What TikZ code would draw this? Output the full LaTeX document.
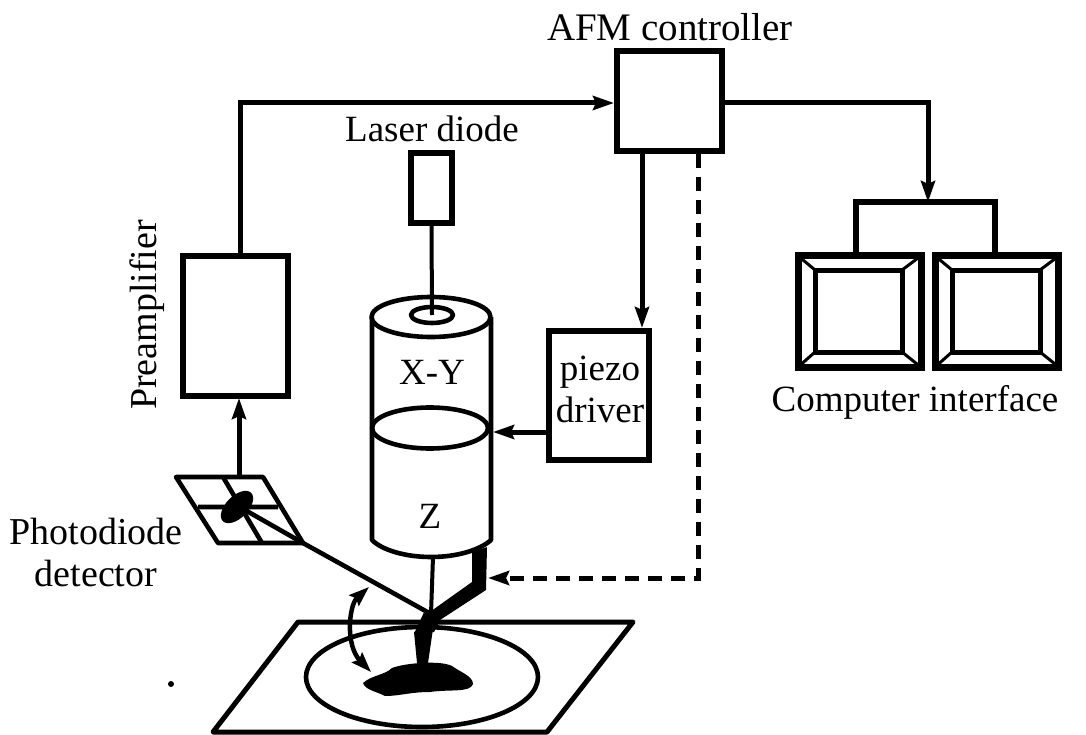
\documentclass[tikz,border=0pt]{standalone}
\usepackage{fontspec}
\setmainfont{Liberation Serif}
\usetikzlibrary{arrows.meta,positioning,calc}
\tikzset{
  lbl/.style={inner sep=0pt,font=\fontsize{#1}{42}\selectfont,align=center,text=black},
  lbl/.default=37,
  bx/.style={draw=black,line width=6pt,fill=white,inner sep=0pt,minimum width=#1},
  wire/.style={line width=5pt,draw=black},
  thin wire/.style={line width=4pt,draw=black},
  tip/.style={-{Stealth[length=21pt,width=14pt,inset=3pt]}},
  obj/.style={line width=4.6pt,draw=black,line join=round},
  mon/.style={line width=7pt,draw=black,fill=white,line join=miter},
}
\begin{document}
\begin{tikzpicture}[x=1pt,y=-1pt]
\useasboundingbox (0,0) rectangle (1086,735);
% plate and sample
\draw[obj,line width=5pt] (298,622) -- (633,622) -- (547,732) -- (213,732) -- cycle;
\draw[obj] (422,677) ellipse [x radius=116,y radius=50];
\fill (363,683) .. controls (372,675) and (385,675) .. (392,668)
  .. controls (405,663) and (440,660) .. (452,666)
  .. controls (460,672) and (473,676) .. (473,684)
  .. controls (470,693) and (450,689) .. (430,692)
  .. controls (410,692) and (400,696) .. (385,696)
  .. controls (378,692) and (365,690) .. (363,683) -- cycle;
\fill (171,684) circle (3);
% cylinder
\draw[obj,fill=white] (372,317) -- (372,540) .. controls (382,550) and (405,557) .. (431,557)
  .. controls (457,557) and (480,550) .. (491,540) -- (491,317);
\draw[obj,fill=white] (431,317) ellipse [x radius=59.5,y radius=20];
\draw[obj] (430,428) ellipse [x radius=58,y radius=20.5];
\draw[obj] (432,315) ellipse [x radius=21,y radius=8];
\node[lbl] (xy) at (432,372) {X-Y};
\node[lbl] (z) at (430,516) {Z};
% boxes
\node[bx=105pt,minimum height=140pt] (pre) at (235.5,326) {};
\node[bx=105pt,minimum height=100pt] (afm) at (669.5,101) {};
\node[bx=41pt,minimum height=70pt] (laser) at (431.5,188) {};
\node[bx=100pt,minimum height=129pt] (piezo) at (599,395) {};
\node[lbl] (piezotxt) at (600,372) {piezo};
\node[lbl] (drivertxt) at (600,410) {driver};
% labels
\node[lbl=39] (afmtxt) at (670,27) {AFM controller};
\node[lbl] (lasertxt) at (432,129) {Laser diode};
\node[lbl] (comptxt) at (915,402) {Computer interface};
\node[lbl=38,rotate=90] (pretxt) at (147,315) {Preamplifier};
\node[lbl=38] (phtxt) at (96,552) {Photodiode\\detector};
% monitors
\node[mon,minimum width=123pt,minimum height=111pt,inner sep=0pt] (m1) at (859.5,311.5) {};
\node[mon,minimum width=123pt,minimum height=111pt,inner sep=0pt] (m2) at (997,311.5) {};
\draw[line width=5pt] (815,270) rectangle (902,352);
\draw[line width=5pt] (952,270) rectangle (1040,352);
\foreach \a/\b in {797/815,922/902}{\draw[line width=3pt] (\a,255) -- (\b,270) (\a,368) -- (\b,352);}
\foreach \a/\b in {934/952,1060/1040}{\draw[line width=3pt] (\a,255) -- (\b,270) (\a,368) -- (\b,352);}
% photodiode
\draw[obj] (176,477) -- (263,477) -- (303,543) -- (218,543) -- cycle;
\draw[obj] (198,507) -- (278,507) (223,477) -- (262,543);
\fill[rotate around={45:(237,507)}] (237,507) ellipse [x radius=20,y radius=11];
% beams
\coordinate (beam) at (431,614);
\coordinate (pdedge) at (303,543);
\coordinate (spot) at (245,510);
\draw[obj] (beam) -- (pdedge) -- (spot);
\draw[thin wire] (433,557) -- (beam);
\draw[thin wire] (laser.south) -- (432,315);
% cantilever and tip
\fill (472,552) -- (487,547) -- (486,590) -- (440,620) -- (427,614) -- (472,582) -- cycle;
\fill (414,632) -- (434,622) -- (428,663) -- (417,663) -- cycle;
\fill (425,610) -- (440,620) -- (434,632) -- (414,634) -- cycle;
% curved double arrow
\coordinate (aa) at (369,587);
\coordinate (ab) at (371,672);
\draw[line width=4.5pt,{Stealth[length=20pt,width=14pt,inset=3pt]}-{Stealth[length=20pt,width=14pt,inset=3pt]}] (aa) .. controls (349,605) and (345,645) .. (ab);
% connectors
\coordinate (afmin) at (afm.west |- 0,103);
\draw[wire,tip] (240,253) coordinate (pout) -- (pout |- afmin) -- (afmin);
\coordinate (mtop) at (928,202);
\draw[wire,tip] (afm.east |- afmin) -- (mtop |- afmin) -- (mtop);
\draw[wire,line width=6pt,line join=miter] (856,255) -- (856,202) -- (995,202) -- (995,255);
\draw[wire,tip] (afm.south -| 642,0) -- (642,328);
\coordinate (dashcorner) at (698,578);
\draw[wire,dash pattern=on 14pt off 9pt,tip] (afm.south -| 698,0) -- (dashcorner) -- (488,578);
\draw[wire,tip] (piezo.west |- 0,432) -- (493,432);
\draw[wire,tip] (239,477) -- (239,398);
\end{tikzpicture}
\end{document}
